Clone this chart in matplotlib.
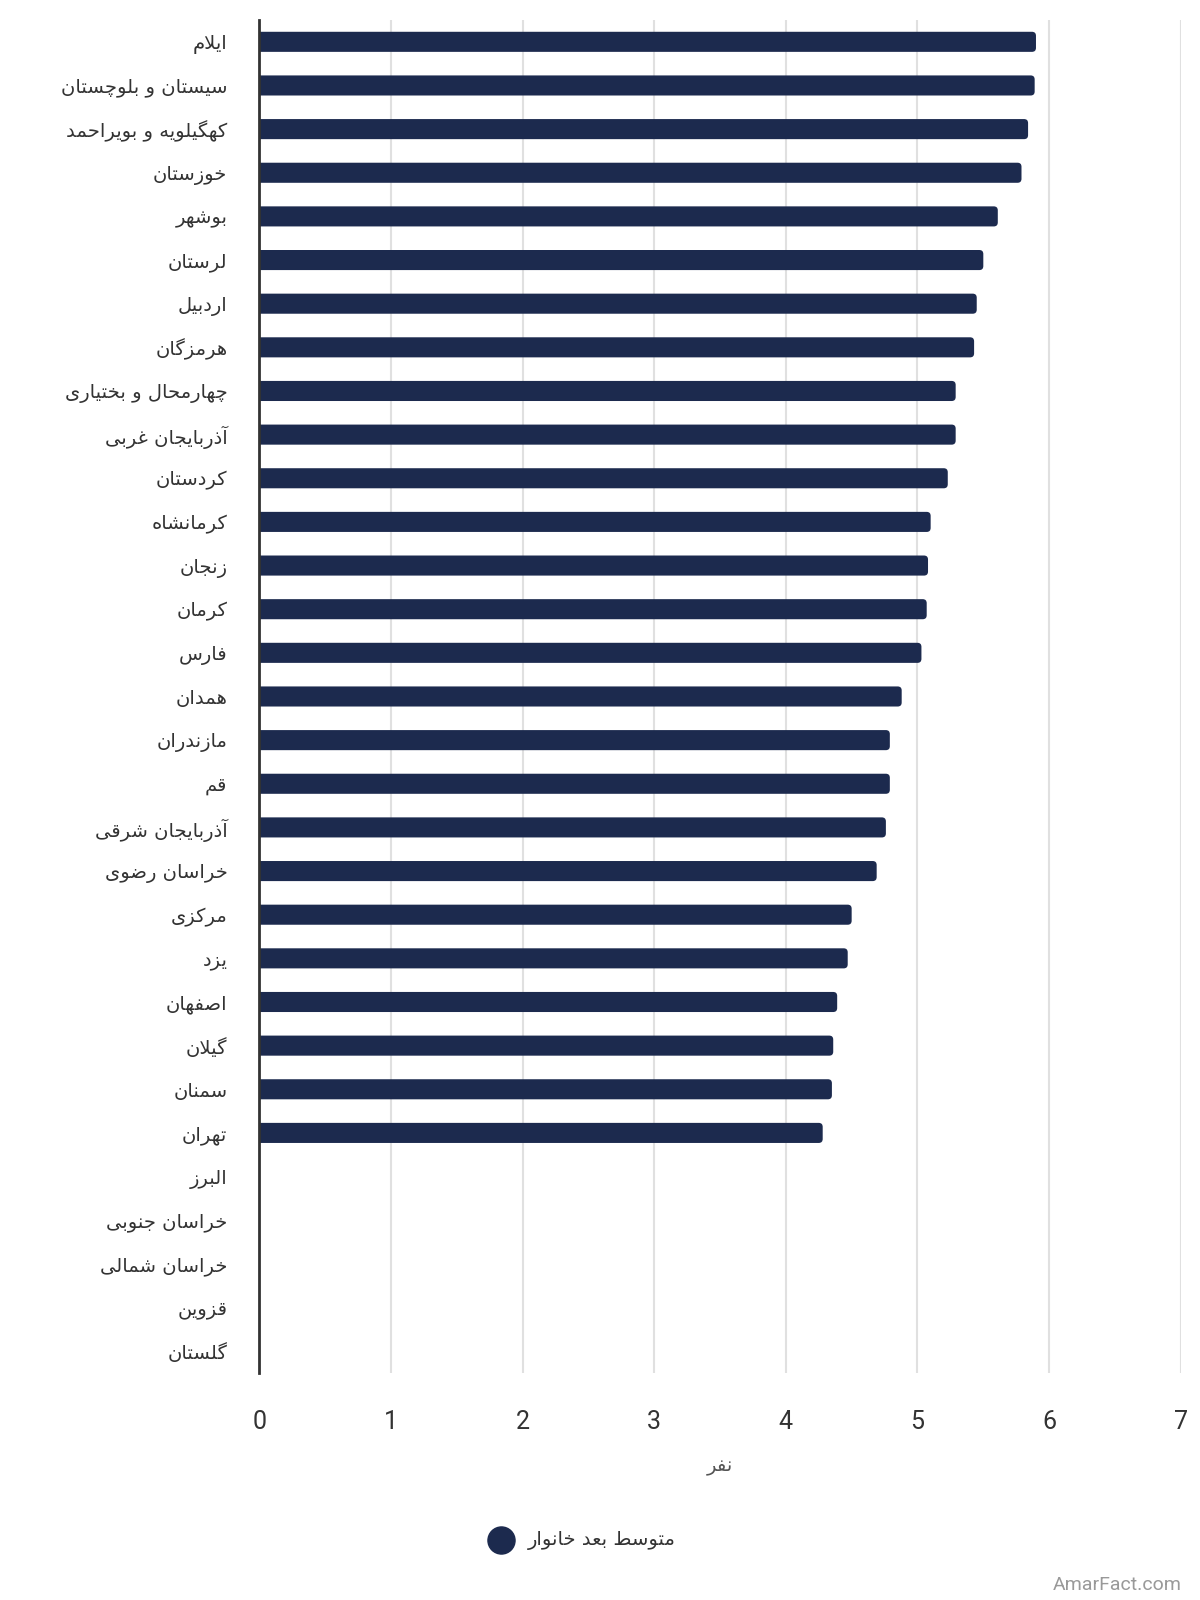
import numpy as np
import matplotlib
matplotlib.use("Agg")
import matplotlib.pyplot as plt
from matplotlib.patches import FancyBboxPatch

provinces = [
    "ایلام", "سیستان و بلوچستان", "کهگیلویه و بویراحمد", "خوزستان", "بوشهر",
    "لرستان", "اردبیل", "هرمزگان", "چهارمحال و بختیاری", "آذربایجان غربی",
    "کردستان", "کرمانشاه", "زنجان", "کرمان", "فارس", "همدان", "مازندران",
    "قم", "آذربایجان شرقی", "خراسان رضوی", "مرکزی", "یزد", "اصفهان",
    "گیلان", "سمنان", "تهران", "البرز", "خراسان جنوبی", "خراسان شمالی",
    "قزوین", "گلستان",
]
household_size = [
    5.90, 5.89, 5.84, 5.79, 5.61, 5.50, 5.45, 5.43, 5.29, 5.29,
    5.23, 5.10, 5.08, 5.07, 5.03, 4.88, 4.79, 4.79, 4.76, 4.69,
    4.50, 4.47, 4.39, 4.36, 4.35, 4.28, np.nan, np.nan, np.nan,
    np.nan, np.nan,
]
x_ticks = [0, 1, 2, 3, 4, 5, 6, 7]
series_name = "متوسط بعد خانوار"
x_title = "نفر"

# --- minimal arabic/persian shaping (matplotlib has no complex text layout)
# char: (isolated, final, initial, medial); None for right-joining letters
FORMS = {
    "\u0621": (0xFE80, None, None, None),
    "\u0622": (0xFE81, 0xFE82, None, None),
    "\u0623": (0xFE83, 0xFE84, None, None),
    "\u0624": (0xFE85, 0xFE86, None, None),
    "\u0625": (0xFE87, 0xFE88, None, None),
    "\u0626": (0xFE89, 0xFE8A, 0xFE8B, 0xFE8C),
    "\u0627": (0xFE8D, 0xFE8E, None, None),
    "\u0628": (0xFE8F, 0xFE90, 0xFE91, 0xFE92),
    "\u0629": (0xFE93, 0xFE94, None, None),
    "\u062A": (0xFE95, 0xFE96, 0xFE97, 0xFE98),
    "\u062B": (0xFE99, 0xFE9A, 0xFE9B, 0xFE9C),
    "\u062C": (0xFE9D, 0xFE9E, 0xFE9F, 0xFEA0),
    "\u062D": (0xFEA1, 0xFEA2, 0xFEA3, 0xFEA4),
    "\u062E": (0xFEA5, 0xFEA6, 0xFEA7, 0xFEA8),
    "\u062F": (0xFEA9, 0xFEAA, None, None),
    "\u0630": (0xFEAB, 0xFEAC, None, None),
    "\u0631": (0xFEAD, 0xFEAE, None, None),
    "\u0632": (0xFEAF, 0xFEB0, None, None),
    "\u0633": (0xFEB1, 0xFEB2, 0xFEB3, 0xFEB4),
    "\u0634": (0xFEB5, 0xFEB6, 0xFEB7, 0xFEB8),
    "\u0635": (0xFEB9, 0xFEBA, 0xFEBB, 0xFEBC),
    "\u0636": (0xFEBD, 0xFEBE, 0xFEBF, 0xFEC0),
    "\u0637": (0xFEC1, 0xFEC2, 0xFEC3, 0xFEC4),
    "\u0638": (0xFEC5, 0xFEC6, 0xFEC7, 0xFEC8),
    "\u0639": (0xFEC9, 0xFECA, 0xFECB, 0xFECC),
    "\u063A": (0xFECD, 0xFECE, 0xFECF, 0xFED0),
    "\u0641": (0xFED1, 0xFED2, 0xFED3, 0xFED4),
    "\u0642": (0xFED5, 0xFED6, 0xFED7, 0xFED8),
    "\u0643": (0xFED9, 0xFEDA, 0xFEDB, 0xFEDC),
    "\u0644": (0xFEDD, 0xFEDE, 0xFEDF, 0xFEE0),
    "\u0645": (0xFEE1, 0xFEE2, 0xFEE3, 0xFEE4),
    "\u0646": (0xFEE5, 0xFEE6, 0xFEE7, 0xFEE8),
    "\u0647": (0xFEE9, 0xFEEA, 0xFEEB, 0xFEEC),
    "\u0648": (0xFEED, 0xFEEE, None, None),
    "\u0649": (0xFEEF, 0xFEF0, None, None),
    "\u064A": (0xFEF1, 0xFEF2, 0xFEF3, 0xFEF4),
    "\u067E": (0xFB56, 0xFB57, 0xFB58, 0xFB59),
    "\u0686": (0xFB7A, 0xFB7B, 0xFB7C, 0xFB7D),
    "\u0698": (0xFB8A, 0xFB8B, None, None),
    "\u06A9": (0xFB8E, 0xFB8F, 0xFB90, 0xFB91),
    "\u06AF": (0xFB92, 0xFB93, 0xFB94, 0xFB95),
    "\u06CC": (0xFBFC, 0xFBFD, 0xFBFE, 0xFBFF),
}
LAM_ALEF = {"\u0627": (0xFEFB, 0xFEFC), "\u0622": (0xFEF5, 0xFEF6),
            "\u0623": (0xFEF7, 0xFEF8), "\u0625": (0xFEF9, 0xFEFA)}


def dual(c):
    return c in FORMS and FORMS[c][2] is not None


def shape(text):
    chars = list(text)
    out = []
    i = 0
    while i < len(chars):
        c = chars[i]
        if c not in FORMS:
            out.append(c)
            i += 1
            continue
        prev = chars[i - 1] if i > 0 else ""
        join_prev = dual(prev)
        nxt = chars[i + 1] if i + 1 < len(chars) else ""
        if c == "\u0644" and nxt in LAM_ALEF:
            out.append(chr(LAM_ALEF[nxt][1 if join_prev else 0]))
            i += 2
            continue
        join_next = dual(c) and nxt in FORMS
        iso, fin, ini, med = FORMS[c]
        if join_prev and join_next:
            f = med
        elif join_prev:
            f = fin
        elif join_next:
            f = ini
        else:
            f = iso
        out.append(chr(f))
        i += 1
    return "".join(out)[::-1]


plt.rcParams["font.family"] = ["DejaVu Sans"]

bar_color = "#1c2a4e"
text_color = "#333333"

fig = plt.figure(figsize=(12, 16), dpi=100)
ax = fig.add_axes([0.216, 0.1419, 0.768, 0.8456])

y = np.arange(len(provinces))
vals = np.nan_to_num(np.array(household_size, dtype=float))
bars = ax.barh(y, vals, height=0.46, color=bar_color, zorder=3)

ax.set_ylim(len(provinces) - 0.5, -0.5)
ax.set_xlim(0, 7)

# rounded right ends: swap each bar for a rounded box, left side clipped at 0
px_x = 7 / (0.768 * 1200)
px_y = len(provinces) / (0.8456 * 1600)
rad = 4 * px_x
for b in bars:
    w = b.get_width()
    b.set_visible(False)
    if w <= 0:
        continue
    ax.add_patch(FancyBboxPatch((-2 * rad, b.get_y()), w + 2 * rad, b.get_height(),
                                boxstyle=f"round,pad=0,rounding_size={rad}",
                                mutation_aspect=px_y / px_x,
                                facecolor=bar_color, edgecolor="none",
                                zorder=3))

ax.set_yticks(y)
ax.set_yticklabels([shape(p) for p in provinces], fontsize=14, color=text_color)
ax.set_xticks(x_ticks)
ax.set_xticklabels([str(t) for t in x_ticks], fontsize=18, color=text_color,
                   family=["Roboto", "DejaVu Sans"])
ax.tick_params(axis="y", length=0, pad=23)
ax.tick_params(axis="x", length=0, pad=27)

ax.grid(axis="x", color="#e0e0e0", linewidth=1.5, zorder=0)
ax.set_axisbelow(True)
for s in ["top", "right", "bottom"]:
    ax.spines[s].set_visible(False)
ax.spines["left"].set_color("#333333")
ax.spines["left"].set_linewidth(2)
ax.spines["left"].set_zorder(4)

ax.set_xlabel(shape(x_title), fontsize=14, color="#555555", labelpad=16)

h = ax.scatter([], [], s=380, color=bar_color, label=shape(series_name))
fig.legend(handles=[h], loc="center", bbox_to_anchor=(0.482, 0.0375),
           frameon=False, fontsize=14, handletextpad=0.4,
           labelcolor=text_color)

fig.text(0.985, 0.004, "AmarFact.com", ha="right", va="bottom",
         fontsize=14, color="#999999", family=["Roboto", "DejaVu Sans"])

fig.savefig("out.png", dpi=100)
